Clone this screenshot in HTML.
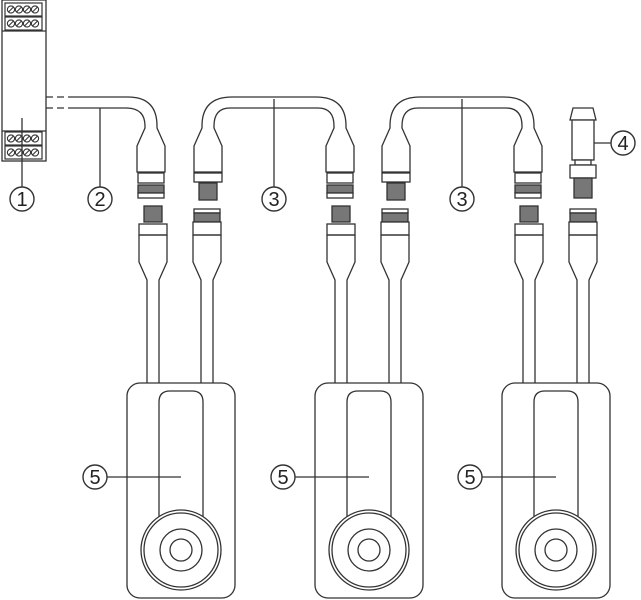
<!DOCTYPE html>
<html><head><meta charset="utf-8"><style>
html,body{margin:0;padding:0;background:#fff;}
svg{display:block}
text{font-family:"Liberation Sans",sans-serif;font-size:20px;fill:#222;text-anchor:middle;font-weight:500}
</style></head><body>
<svg width="641" height="600" viewBox="0 0 641 600" xmlns="http://www.w3.org/2000/svg">
<defs>
<g id="body">
<path d="M-6,126 L-6,128 L-14,146 L-14,172 L14,172 L14,146 L6,128 L6,126" fill="#fff" stroke="#333" stroke-width="1.3"/>
</g>
<g id="FT">
<use href="#body"/>
<rect x="-13" y="173" width="26" height="10" fill="#fff" stroke="#333" stroke-width="1.3"/>
<rect x="-13" y="185" width="26" height="8" fill="#777" stroke="#333" stroke-width="1.3"/>
<rect x="-13" y="193" width="26" height="5" fill="#fff" stroke="#333" stroke-width="1.3"/>
</g>
<g id="MT">
<use href="#body"/>
<rect x="-14" y="173" width="28" height="9" fill="#fff" stroke="#333" stroke-width="1.3"/>
<rect x="-9" y="183" width="18" height="17" fill="#777" stroke="#333" stroke-width="1.3"/>
</g>
<g id="lowbody">
<path d="M-14,235 L-14,262 L-6,280 L-6,383 M14,235 L14,262 L6,280 L6,383" fill="none" stroke="#333" stroke-width="1.3"/>
<line x1="-14" y1="235" x2="14" y2="235" stroke="#333" stroke-width="1.3"/>
</g>
<g id="MB">
<rect x="-9" y="206" width="18" height="16" fill="#777" stroke="#333" stroke-width="1.3"/>
<rect x="-14" y="224" width="28" height="11" fill="#fff" stroke="#333" stroke-width="1.3"/>
<use href="#lowbody"/>
</g>
<g id="FB">
<rect x="-13" y="209" width="26" height="4" fill="#fff" stroke="#333" stroke-width="1.3"/>
<rect x="-13" y="213" width="26" height="9" fill="#777" stroke="#333" stroke-width="1.3"/>
<rect x="-14" y="222" width="28" height="13" fill="#fff" stroke="#333" stroke-width="1.3"/>
<use href="#lowbody"/>
</g>
<g id="sensor" fill="none" stroke="#333" stroke-width="1.3">
<rect x="127" y="383" width="108" height="215" rx="13"/>
<path d="M159,520 L159,402 Q159,391 170,391 L192,391 Q203,391 203,402 L203,520"/>
<circle cx="181" cy="550" r="40" fill="#fff"/>
<circle cx="181" cy="550" r="37"/>
<circle cx="181" cy="550" r="21"/>
<circle cx="181" cy="550" r="11"/>
<line x1="106" y1="477" x2="181" y2="477"/>
</g>
<g id="term">
<path d="M-13,120 L-10,108 L10,108 L13,120 Z" fill="#fff" stroke="#333" stroke-width="1.3"/>
<rect x="-11" y="120" width="22" height="40" fill="#fff" stroke="#333" stroke-width="1.3"/>
<rect x="-8" y="160" width="16" height="5" fill="#fff" stroke="#333" stroke-width="1.3"/>
<rect x="-13" y="165" width="26" height="13" fill="#fff" stroke="#333" stroke-width="1.3"/>
<rect x="-9" y="178" width="18" height="20" fill="#777" stroke="#333" stroke-width="1.3"/>
</g>
<g id="screw"><circle r="3.6" fill="#fff" stroke="#333" stroke-width="1.1"/><line x1="-2.5" y1="2.5" x2="2.5" y2="-2.5" stroke="#333" stroke-width="1.1"/></g>
<g id="trow">
<rect x="5" y="0" width="37" height="13" fill="#fff" stroke="#333" stroke-width="1.2"/>
<use href="#screw" x="11" y="6.5"/><use href="#screw" x="19" y="6.5"/><use href="#screw" x="27" y="6.5"/><use href="#screw" x="35" y="6.5"/>
</g>
</defs>

<rect x="2" y="0" width="44" height="161" fill="#fff" stroke="#333" stroke-width="1.3"/>
<line x1="2" y1="31" x2="46" y2="31" stroke="#333" stroke-width="1.3"/>
<line x1="2" y1="131" x2="46" y2="131" stroke="#333" stroke-width="1.3"/>
<use href="#trow" y="3"/><use href="#trow" y="17"/>
<use href="#trow" y="132"/><use href="#trow" y="146"/>

<g fill="none" stroke="#333" stroke-width="1.3">
<path d="M46,97 H70 M46,108 H70" stroke-dasharray="7,4"/>
<path d="M70,97 H128 Q157,97 157,126"/>
<path d="M70,108 H126 Q145,108 145,126"/>
<path d="M202,126 Q202,97 232,97 H316 Q346,97 346,126"/>
<path d="M214,126 Q214,108 230,108 H318 Q334,108 334,126"/>
<path d="M390,126 Q390,97 420,97 H504 Q534,97 534,126"/>
<path d="M402,126 Q402,108 418,108 H506 Q522,108 522,126"/>
<line x1="22" y1="118" x2="22" y2="187"/>
<line x1="100" y1="108" x2="100" y2="187"/>
<line x1="274" y1="99" x2="274" y2="187"/>
<line x1="462" y1="99" x2="462" y2="187"/>
<line x1="583" y1="143" x2="611" y2="143"/>
</g>

<use href="#FT" x="151"/><use href="#MT" x="208"/>
<use href="#FT" x="340"/><use href="#MT" x="396"/>
<use href="#FT" x="528"/><use href="#term" x="583"/>

<use href="#MB" x="153"/><use href="#FB" x="207"/>
<use href="#MB" x="341"/><use href="#FB" x="395"/>
<use href="#MB" x="529"/><use href="#FB" x="583"/>

<use href="#sensor"/><use href="#sensor" x="188"/><use href="#sensor" x="375"/>

<g fill="#fff" stroke="#333" stroke-width="1.4">
<circle cx="22" cy="199" r="12"/><circle cx="100" cy="199" r="12"/>
<circle cx="274" cy="199" r="12"/><circle cx="462" cy="199" r="12"/>
<circle cx="623" cy="143" r="12"/>
<circle cx="95" cy="477" r="12"/><circle cx="283" cy="477" r="12"/><circle cx="470" cy="477" r="12"/>
</g>
<text x="22" y="206">1</text><text x="100" y="206">2</text>
<text x="274" y="206">3</text><text x="462" y="206">3</text>
<text x="623" y="150">4</text>
<text x="95" y="484">5</text><text x="283" y="484">5</text><text x="470" y="484">5</text>
</svg>
</body></html>
